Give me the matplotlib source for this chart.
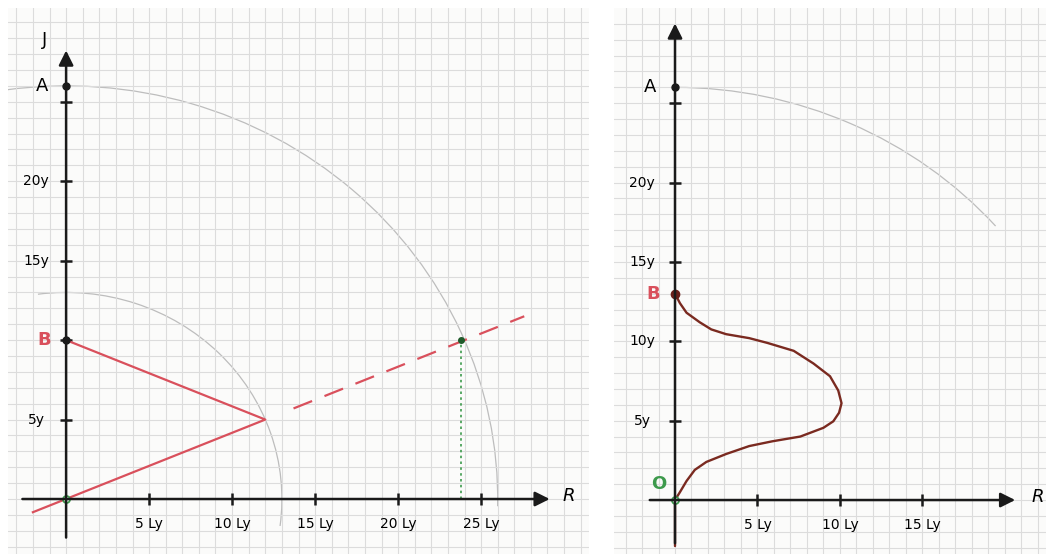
import numpy as np
import matplotlib.pyplot as plt
from matplotlib.patches import Arc

# DATA ================================================
# left panel: twin paradox, straight worldlines
x_ticks_left = [5, 10, 15, 20, 25]
x_labels_left = ['5 Ly', '10 Ly', '15 Ly', '20 Ly', '25 Ly']
y_ticks_left = [5, 10, 15, 20, 25]
y_labels_left = {5: '5y', 15: '15y', 20: '20y'}
red_x = [-2.0, 12.0, 0.0]
red_y = [-0.83, 5.0, 10.0]
dash_x = [13.7, 27.6]
dash_y = [5.7, 11.5]
hit_x, hit_y = 23.8, 10.0
r_small, r_big = 13, 26

# right panel: curved worldline
x_ticks_right = [5, 10, 15]
x_labels_right = ['5 Ly', '10 Ly', '15 Ly']
y_ticks_right = [5, 10, 15, 20, 25]
y_labels_right = {5: '5y', 10: '10y', 15: '15y', 20: '20y'}
curve_x = [0, 0, 0.3, 0.7, 1.2, 1.9, 3.1, 4.5, 5.9, 7.6, 9.0, 9.6, 9.95, 10.1,
           9.9, 9.4, 8.4, 7.2, 5.6, 4.5, 3.1, 2.2, 1.5, 0.7, 0.3, 0]
curve_y = [-2.9, 0, 0.5, 1.2, 1.9, 2.4, 2.9, 3.4, 3.7, 4.0, 4.55, 4.96, 5.5, 6.1,
           6.9, 7.8, 8.6, 9.4, 9.9, 10.2, 10.45, 10.75, 11.2, 11.8, 12.4, 13.0]
A_y = 26
#======================================================

paper = '#fbfbfa'
grid_c = '#dcdcdc'
red = '#d9505c'
green = '#3d9a4c'
brown = '#7a2a20'
arc_c = '#bdbdbd'

fig = plt.figure(figsize=(10.5, 5.54), dpi=100)
axL = fig.add_axes([8/1050, 0, 581/1050, 546/554])
axR = fig.add_axes([614/1050, 0, 432/1050, 546/554])


def paper_axes(ax, xlim, ylim):
    ax.set_xlim(*xlim)
    ax.set_ylim(*ylim)
    ax.set_facecolor(paper)
    ax.set_xticks(np.arange(np.ceil(xlim[0]), xlim[1]))
    ax.set_yticks(np.arange(np.ceil(ylim[0]), ylim[1]))
    ax.grid(True, color=grid_c, lw=0.8)
    ax.tick_params(length=0, labelbottom=False, labelleft=False)
    for s in ax.spines.values():
        s.set_visible(False)


def draw_axes(ax, x0, x1, y0, y1, xt, yt):
    ax.annotate('', xy=(x1, 0), xytext=(x0, 0),
                arrowprops=dict(arrowstyle='-|>', lw=1.8, color='#1a1a1a', mutation_scale=22))
    ax.annotate('', xy=(0, y1), xytext=(0, y0),
                arrowprops=dict(arrowstyle='-|>', lw=1.8, color='#1a1a1a', mutation_scale=22))
    ax.plot(xt, [0] * len(xt), '|', ms=9, mew=1.8, color='#1a1a1a')
    ax.plot([0] * len(yt), yt, '_', ms=9, mew=1.8, color='#1a1a1a')


# LEFT ===================================================
paper_axes(axL, (-3.5, 31.5), (-3.46, 30.9))
axL.add_patch(Arc((0, 0), 2 * r_small, 2 * r_small, theta1=-7.5, theta2=97.5, color=arc_c, lw=0.9))
axL.add_patch(Arc((0, 0), 2 * r_big, 2 * r_big, theta1=-1, theta2=98, color=arc_c, lw=0.9))
draw_axes(axL, -2.8, 29.3, -2.6, 28.4, x_ticks_left, y_ticks_left)
axL.plot(red_x, red_y, color=red, lw=1.6)
axL.plot(dash_x, dash_y, color=red, lw=1.6, dashes=(9, 6))
axL.plot([hit_x, hit_x], [0, hit_y], color=green, lw=1.2, dashes=(1.5, 2))
axL.plot(hit_x, hit_y, 'o', ms=4, color='#1f5a2a')
axL.plot(0, 10, 'o', ms=5, color='#1a1a1a')
axL.plot(0, A_y, 'o', ms=5, color='#1a1a1a')
axL.plot(0, 0, 'o', ms=5, mfc='white', mec=green, mew=1.3)

for xv, lab in zip(x_ticks_left, x_labels_left):
    axL.text(xv, -1.6, lab, ha='center', va='center', fontsize=10)
for yv, lab in y_labels_left.items():
    axL.text(-1.8, yv, lab, ha='center', va='center', fontsize=10)
axL.text(-1.35, 10, 'B', color=red, ha='center', va='center', fontsize=13, fontweight='bold')
axL.text(-1.45, A_y, 'A', ha='center', va='center', fontsize=13)
axL.text(-1.3, 28.9, 'J', ha='center', va='center', fontsize=13)
axL.text(30.3, 0.2, 'R', ha='center', va='center', fontsize=13, style='italic')

# RIGHT ==================================================
paper_axes(axR, (-3.7, 22.5), (-3.4, 31.0))
axR.add_patch(Arc((0, 0), 2 * r_big, 2 * r_big, theta1=41.6, theta2=90, color=arc_c, lw=0.9))
draw_axes(axR, -1.7, 20.8, -2.9, 30.2, x_ticks_right, y_ticks_right)
axR.plot(curve_x, curve_y, color=brown, lw=1.7, solid_capstyle='round', solid_joinstyle='round')
axR.plot(0, 13, 'o', ms=6, color='#6a1f1a')
axR.plot(0, A_y, 'o', ms=5, color='#1a1a1a')
axR.plot(0, 0, 'o', ms=5, mfc='white', mec=green, mew=1.3)

for xv, lab in zip(x_ticks_right, x_labels_right):
    axR.text(xv, -1.6, lab, ha='center', va='center', fontsize=10)
for yv, lab in y_labels_right.items():
    axR.text(-2.0, yv, lab, ha='center', va='center', fontsize=10)
axR.text(-1.3, 13, 'B', color=red, ha='center', va='center', fontsize=13, fontweight='bold')
axR.text(-1.0, 1.0, 'O', color=green, ha='center', va='center', fontsize=13, fontweight='bold')
axR.text(-1.5, A_y, 'A', ha='center', va='center', fontsize=13)
axR.text(22.0, 0.2, 'R', ha='center', va='center', fontsize=13, style='italic')

plt.savefig('out.png', dpi=100)
